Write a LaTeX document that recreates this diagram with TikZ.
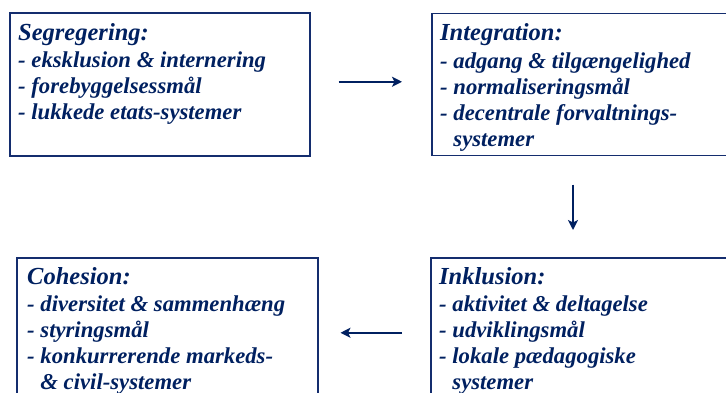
\documentclass[tikz,border=0pt]{standalone}
\usepackage{fontspec}
\setmainfont{Liberation Serif}
\usetikzlibrary{arrows.meta}
\definecolor{navyblue}{RGB}{0,32,96}
\definecolor{boxline}{RGB}{20,45,110}
\tikzset{
  box/.style={draw=boxline, line width=1.5pt, anchor=north west, inner sep=0pt},
  boxtext/.style={anchor=north west, inner sep=0pt, align=left, text=navyblue,
    font=\fontsize{22.7}{26}\selectfont\bfseries\itshape},
  arr/.style={-{Stealth[length=10pt,width=10pt,inset=2.5pt]}, draw=navyblue, line width=2pt},
}
\newcommand{\boxhead}[1]{{\rule{0pt}{18pt}\fontsize{24.5}{26}\selectfont #1}}
\newcommand{\indentline}{\phantom{- }}

\begin{document}
\begin{tikzpicture}[x=1pt,y=-1pt]
			%%%%% START %%%%%
			\useasboundingbox (0,0) rectangle (726,392);
			\clip (0,0) rectangle (726,392);
			
			% the four boxes
			\node[box, minimum width=300pt, minimum height=143pt] (seg) at (9,12) {};
			\node[box, minimum width=310pt, minimum height=142pt] (int) at (431,12.5) {};
			\node[box, minimum width=301pt, minimum height=150pt] (coh) at (16,257) {};
			\node[box, minimum width=310pt, minimum height=150pt] (inkl) at (430,257) {};
			
			% texts (first baseline 28pt under the box top)
			\node[boxtext] (segtxt) at ([shift={(9,10)}]seg.north west)
			  {\boxhead{Segregering:}\\[1.5pt]- eksklusion \& internering\\- forebyggelsessmål\\- lukkede etats-systemer};
			\node[boxtext] (inttxt) at ([shift={(9,10)}]int.north west)
			  {\boxhead{Integration:}\\[1.5pt]- adgang \& tilgængelighed\\- normaliseringsmål\\- decentrale forvaltnings-\\\indentline systemer};
			\node[boxtext] (cohtxt) at ([shift={(11,9)}]coh.north west)
			  {\boxhead{Cohesion:}\\[1pt]- diversitet \& sammenhæng\\- styringsmål\\- konkurrerende markeds-\\\indentline\& civil-systemer};
			\node[boxtext] (inkltxt) at ([shift={(9,9)}]inkl.north west)
			  {\boxhead{Inklusion:}\\[1pt]- aktivitet \& deltagelse\\- udviklingsmål\\- lokale pædagogiske\\\indentline systemer};
			
			% arrows
			\draw[arr, shorten <=28pt, shorten >=29pt] ([yshift=2.5pt]seg.east) -- ([yshift=2.5pt]int.west);
			\draw[arr, shorten <=28.5pt, shorten >=27pt] ([xshift=142pt]int.south west) -- ([xshift=143pt]inkl.north west);
			\draw[arr, shorten <=28pt, shorten >=22pt] (inkl.west) -- (coh.east);
			
			%%%%% END %%%%%
\end{tikzpicture}
\end{document}
